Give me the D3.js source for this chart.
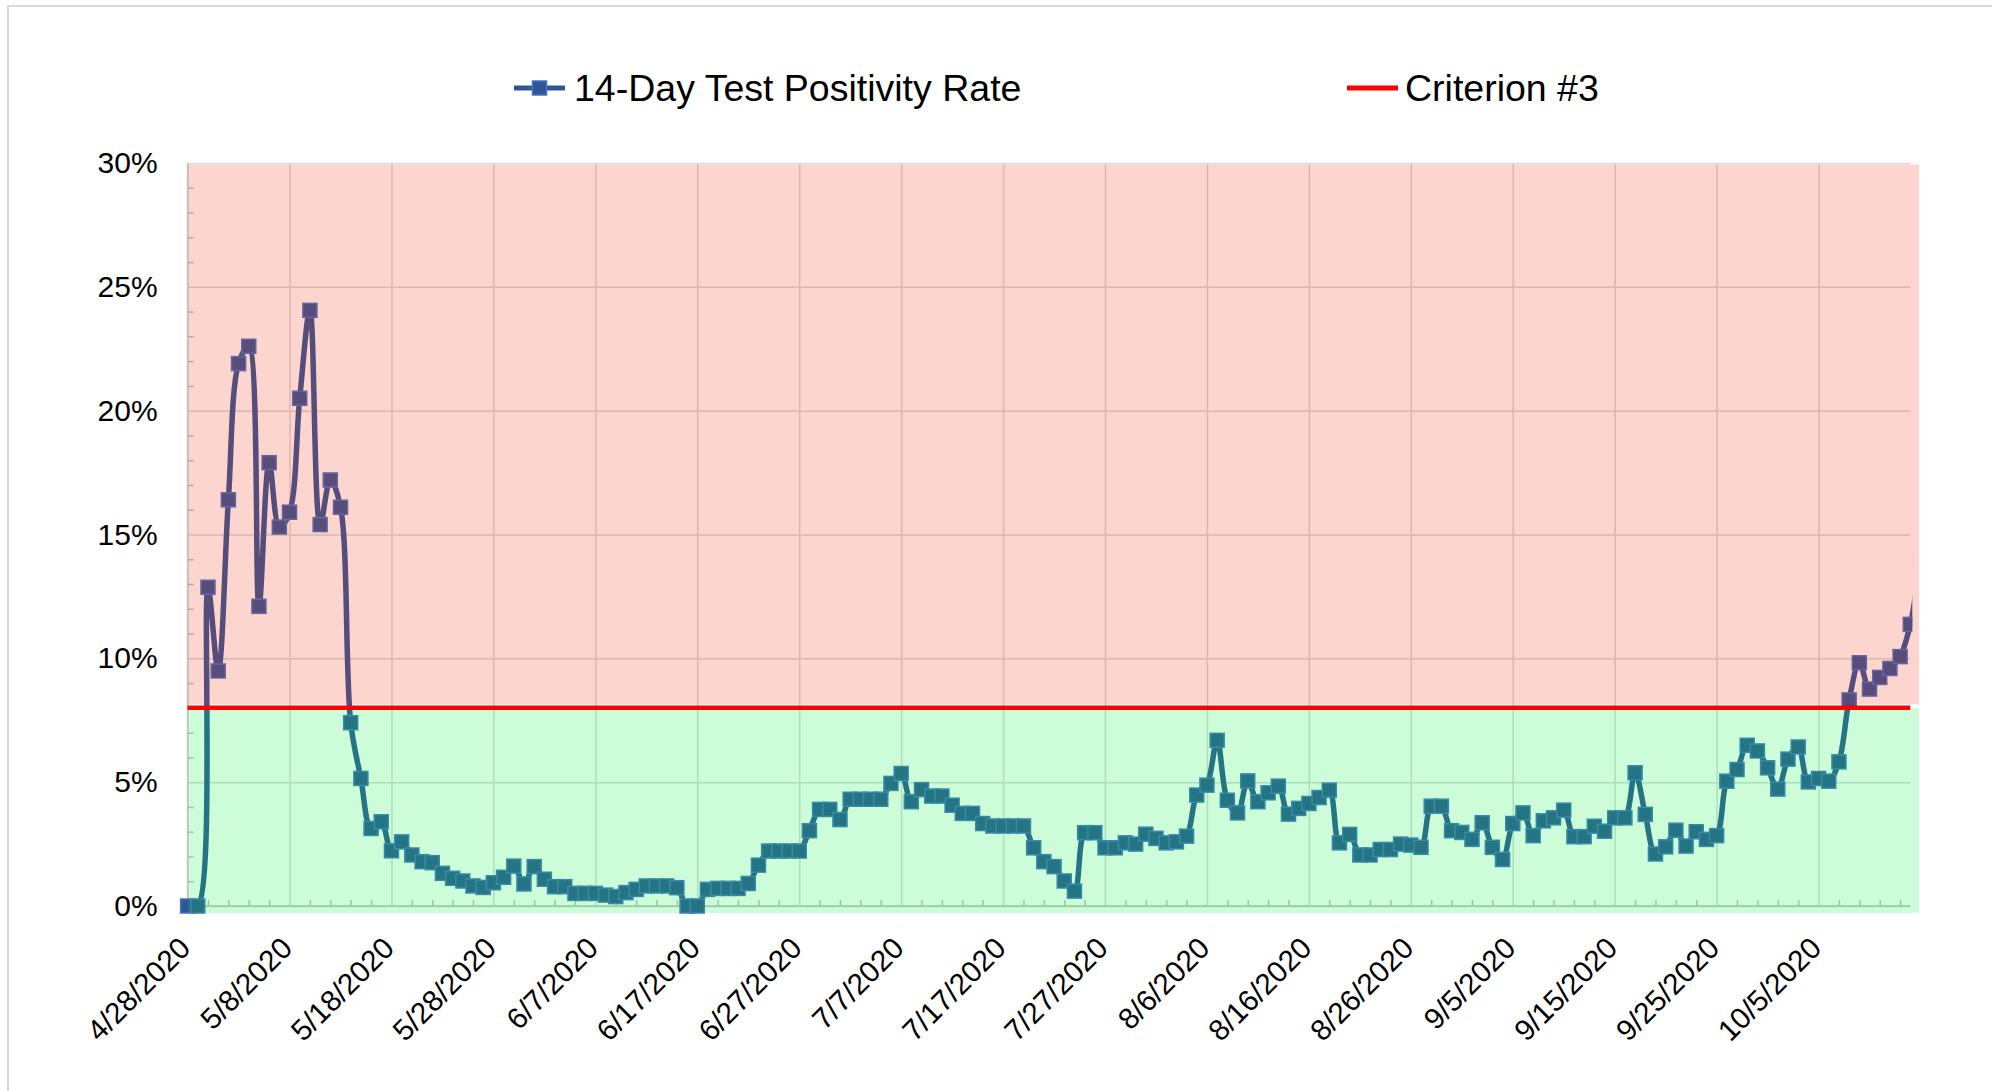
<!DOCTYPE html>
<html>
<head>
<meta charset="utf-8">
<script src="https://cdn.jsdelivr.net/npm/d3@7"></script>
<style>
  body { margin: 0; background: #fff; }
  svg text { font-family: "Liberation Sans", Arial, sans-serif; fill: #000; }
</style>
</head>
<body>
<svg id="chart"></svg>
<script>
// 14-day test positivity (%), one value per day starting 4/28/2020
const startDay = "4/28/2020";
const positivity = [
  0, 0, 12.87, 9.49, 16.4, 21.9, 22.6, 12.1, 17.9, 15.3,
  15.9, 20.5, 24.05, 15.4, 17.2, 16.1, 7.4, 5.15, 3.13, 3.4,
  2.23, 2.59, 2.06, 1.79, 1.75, 1.32, 1.12, 1.01, 0.81, 0.75,
  0.94, 1.16, 1.61, 0.89, 1.59, 1.08, 0.78, 0.78, 0.51, 0.51,
  0.51, 0.44, 0.38, 0.54, 0.67, 0.81, 0.81, 0.81, 0.74, 0,
  0, 0.67, 0.71, 0.71, 0.71, 0.91, 1.65, 2.22, 2.22, 2.22,
  2.22, 3.04, 3.9, 3.9, 3.49, 4.31, 4.31, 4.31, 4.31, 4.95,
  5.35, 4.21, 4.7, 4.44, 4.44, 4.07, 3.74, 3.74, 3.33, 3.23,
  3.23, 3.23, 3.23, 2.35, 1.79, 1.59, 1.01, 0.6, 2.96, 2.96,
  2.35, 2.35, 2.55, 2.5, 2.9, 2.73, 2.55, 2.59, 2.82, 4.48,
  4.88, 6.69, 4.27, 3.76, 5.05, 4.21, 4.57, 4.84, 3.71, 3.94,
  4.14, 4.38, 4.68, 2.55, 2.89, 2.06, 2.06, 2.28, 2.28, 2.5,
  2.46, 2.37, 4.03, 4.03, 3.04, 2.97, 2.69, 3.36, 2.37, 1.88,
  3.33, 3.76, 2.84, 3.44, 3.56, 3.87, 2.8, 2.8, 3.22, 3.02,
  3.56, 3.56, 5.38, 3.7, 2.1, 2.39, 3.06, 2.42, 3.0, 2.69,
  2.84, 5.04, 5.51, 6.49, 6.26, 5.58, 4.72, 5.93, 6.42, 5.01,
  5.15, 5.04, 5.82, 8.32, 9.82, 8.76, 9.23, 9.59, 10.07, 11.37,
  14
];
const lastAxisDay = "10/14/2020";
const criterion = 8;
const yTicks = [0, 5, 10, 15, 20, 25, 30];
const xTickLabels = ["4/28/2020", "5/8/2020", "5/18/2020", "5/28/2020", "6/7/2020",
  "6/17/2020", "6/27/2020", "7/7/2020", "7/17/2020", "7/27/2020", "8/6/2020",
  "8/16/2020", "8/26/2020", "9/5/2020", "9/15/2020", "9/25/2020", "10/5/2020"];
const legendLabels = ["14-Day Test Positivity Rate", "Criterion #3"];

const W = 1992, H = 1091;
const plotL = 187.6, plotR = 1910.3, plotT = 163, plotB = 906;

const parse = d3.timeParse("%m/%d/%Y");
const fmt = d3.timeFormat("%-m/%-d/%Y");
const start = parse(startDay);
const data = positivity.map((v, i) => ({ date: d3.timeDay.offset(start, i), v }));

const svg = d3.select("#chart").attr("width", W).attr("height", H);

// outer chart border
svg.append("rect").attr("x", 8).attr("y", 6).attr("width", W + 50).attr("height", H + 50)
  .attr("fill", "none").attr("stroke", "#d9d9d9").attr("stroke-width", 2);

const x = d3.scaleTime().domain([start, parse(lastAxisDay)]).range([plotL, plotR]);
const y = d3.scaleLinear().domain([0, 30]).range([plotB, plotT]);
const xTicks = xTickLabels.map(parse);

// gridlines
svg.append("g").attr("transform", `translate(${plotL},0)`)
  .call(d3.axisLeft(y).tickValues(yTicks).tickSize(-(plotR - plotL)).tickFormat(""))
  .call(g => g.select(".domain").remove())
  .selectAll("line").attr("stroke", "#d9d9d9").attr("stroke-width", 1.5);
svg.append("g").attr("transform", `translate(0,${plotB})`)
  .call(d3.axisBottom(x).tickValues(xTicks).tickSize(-(plotB - plotT)).tickFormat(""))
  .call(g => g.select(".domain").remove())
  .selectAll("line").attr("stroke", "#d9d9d9").attr("stroke-width", 1.5);

// minor ticks (inside)
svg.append("g").attr("transform", `translate(${plotL},0)`)
  .call(d3.axisRight(y).tickValues(d3.range(1, 30).filter(d => d % 5)).tickSize(6).tickFormat(""))
  .call(g => g.select(".domain").remove())
  .selectAll("line").attr("stroke", "#bfbfbf").attr("stroke-width", 1.5);
svg.append("g").attr("transform", `translate(0,${plotB})`)
  .call(d3.axisTop(x).tickValues(d3.range(2, 170, 2).filter(d => d % 10)
      .map(d => d3.timeDay.offset(start, d))).tickSize(6).tickFormat(""))
  .call(g => g.select(".domain").remove())
  .selectAll("line").attr("stroke", "#bfbfbf").attr("stroke-width", 1.5);

// axis lines
svg.append("line").attr("x1", plotL).attr("x2", plotL).attr("y1", plotT).attr("y2", plotB)
  .attr("stroke", "#bfbfbf").attr("stroke-width", 1.5);
svg.append("line").attr("x1", plotL).attr("x2", plotR).attr("y1", plotB).attr("y2", plotB)
  .attr("stroke", "#bfbfbf").attr("stroke-width", 1.5);

// series (drawn under the coloured bands, like the original)
svg.append("clipPath").attr("id", "clip").append("rect")
  .attr("x", 0).attr("y", 0).attr("width", plotR + 2).attr("height", H);
const series = svg.append("g").attr("clip-path", "url(#clip)");
const line = d3.line().x(d => x(d.date)).y(d => y(d.v)).curve(d3.curveCatmullRom.alpha(0.5));
series.append("path").datum(data).attr("d", line)
  .attr("fill", "none").attr("stroke", "#2f5597").attr("stroke-width", 5.5)
  .attr("stroke-linejoin", "round");
const ms = 14;
series.selectAll(".dot").data(data).enter().append("rect").attr("class", "dot")
  .attr("x", d => x(d.date) - ms / 2).attr("y", d => y(d.v) - ms / 2)
  .attr("width", ms).attr("height", ms)
  .attr("fill", "#2f5597").attr("stroke", "#4472c4").attr("stroke-width", 1.5);

// coloured bands
svg.append("rect").attr("x", plotL + 0.8).attr("y", y(30) + 1.5)
  .attr("width", plotR + 8 - plotL).attr("height", y(criterion) - 3.5 - (y(30) + 1.5))
  .attr("fill", "rgb(245,45,15)").attr("fill-opacity", 0.2);
svg.append("rect").attr("x", plotL + 0.8).attr("y", y(criterion))
  .attr("width", plotR + 8 - plotL).attr("height", plotB + 7 - y(criterion))
  .attr("fill", "rgb(0,240,60)").attr("fill-opacity", 0.2);

// criterion line
svg.append("line").attr("x1", plotL).attr("x2", plotR).attr("y1", y(criterion)).attr("y2", y(criterion))
  .attr("stroke", "#ff0000").attr("stroke-width", 4.5);

// y labels
svg.append("g").attr("transform", `translate(${plotL},0)`)
  .call(d3.axisLeft(y).tickValues(yTicks).tickSize(0).tickPadding(30).tickFormat(d => d + "%"))
  .call(g => g.select(".domain").remove())
  .selectAll("text").attr("font-size", 30).attr("fill", "#000");

// x labels
svg.append("g").attr("transform", `translate(0,${plotB})`)
  .call(d3.axisBottom(x).tickValues(xTicks).tickSize(0).tickFormat(fmt))
  .call(g => g.select(".domain").remove())
  .selectAll("text")
  .attr("font-size", 29.5).attr("fill", "#000")
  .attr("text-anchor", "end").attr("x", 4).attr("y", 44).attr("dy", 0)
  .attr("transform", "rotate(-45,4,44)");

// legend
const lg = svg.append("g");
lg.append("line").attr("x1", 514).attr("x2", 565).attr("y1", 88).attr("y2", 88)
  .attr("stroke", "#2f5597").attr("stroke-width", 5);
lg.append("rect").attr("x", 539.5 - 7).attr("y", 88 - 7).attr("width", 14).attr("height", 14)
  .attr("fill", "#2f5597").attr("stroke", "#4472c4").attr("stroke-width", 1.5);
lg.append("text").attr("x", 574).attr("y", 101).attr("font-size", 37.5).text(legendLabels[0]);
lg.append("line").attr("x1", 1347).attr("x2", 1398).attr("y1", 88).attr("y2", 88)
  .attr("stroke", "#ff0000").attr("stroke-width", 5);
lg.append("text").attr("x", 1405).attr("y", 101).attr("font-size", 37.5).text(legendLabels[1]);
</script>
</body>
</html>
